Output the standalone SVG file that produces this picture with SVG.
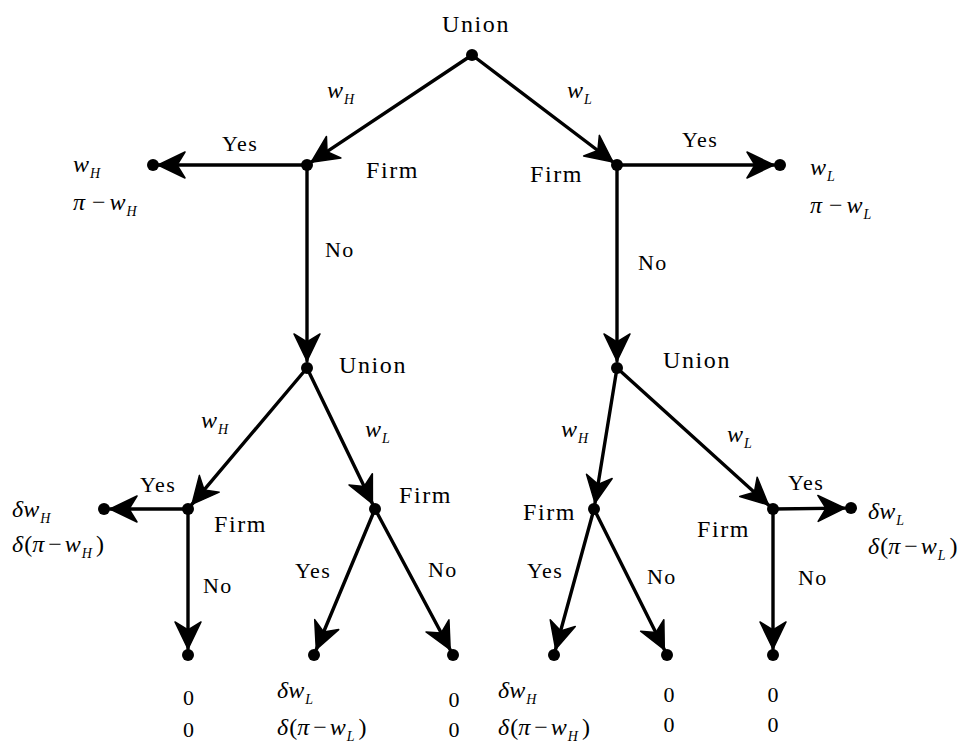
<svg xmlns="http://www.w3.org/2000/svg" width="967" height="744" viewBox="0 0 967 744">
<style>
.e{stroke:#000;stroke-width:3.4;fill:none;stroke-linecap:round;marker-end:url(#ah)}
.d{fill:#000}
.t{font-family:"Liberation Serif","Times New Roman",serif;font-size:24px;letter-spacing:1.6px;fill:#000}
.y{font-family:"Liberation Serif","Times New Roman",serif;font-size:22px;letter-spacing:1.4px;fill:#000}
.m{font-family:"Liberation Serif","Times New Roman",serif;font-size:24px;font-style:italic;fill:#000}
.r{font-style:normal}
.s{font-size:14px;font-style:italic}
.z{font-family:"Liberation Serif","Times New Roman",serif;font-size:22px;fill:#000;text-anchor:middle}
</style>
<defs>
<marker id="ah" viewBox="-29 -15 31 30" refX="0" refY="0" markerWidth="31" markerHeight="30" markerUnits="userSpaceOnUse" orient="auto">
<path d="M0,0 L-27,-13 L-19,0 L-27,13 Z" fill="#000" stroke="#000" stroke-width="1.5" stroke-linejoin="round"/>
</marker>
</defs>
<rect width="967" height="744" fill="#fff"/>
<g id="connectors">
<line class="e" x1="472" y1="55" x2="311.2" y2="162.2"/>
<line class="e" x1="472" y1="55" x2="613" y2="162"/>
<line class="e" x1="307" y1="165" x2="158" y2="165"/>
<line class="e" x1="617" y1="165" x2="774" y2="165"/>
<line class="e" x1="307" y1="165" x2="307" y2="361"/>
<line class="e" x1="617" y1="165" x2="617" y2="361"/>
<line class="e" x1="307" y1="368" x2="191.9" y2="504.4"/>
<line class="e" x1="307" y1="368" x2="372.4" y2="503.6"/>
<line class="e" x1="617" y1="368" x2="595" y2="503.1"/>
<line class="e" x1="617" y1="368" x2="768.5" y2="505"/>
<line class="e" x1="188" y1="509" x2="110" y2="509"/>
<line class="e" x1="188" y1="509" x2="188" y2="649"/>
<line class="e" x1="375" y1="509" x2="316.3" y2="649.5"/>
<line class="e" x1="375" y1="509" x2="450.2" y2="649.7"/>
<line class="e" x1="594" y1="509" x2="555.6" y2="649.2"/>
<line class="e" x1="594" y1="509" x2="664.3" y2="649.6"/>
<line class="e" x1="773" y1="509" x2="845" y2="508.1"/>
<line class="e" x1="773" y1="509" x2="773" y2="649"/>
</g>
<g id="edge-labels">
<text class="m" x="327" y="98">w<tspan class="s" dx="1" dy="6">H</tspan></text>
<text class="m" x="567" y="98">w<tspan class="s" dx="1" dy="6">L</tspan></text>
<text class="y" x="222" y="151">Yes</text>
<text class="y" x="682" y="147">Yes</text>
<text class="y" x="325" y="257">No</text>
<text class="y" x="638" y="270">No</text>
<text class="m" x="201" y="428">w<tspan class="s" dx="1" dy="6">H</tspan></text>
<text class="m" x="365" y="437">w<tspan class="s" dx="1" dy="6">L</tspan></text>
<text class="m" x="561" y="437">w<tspan class="s" dx="1" dy="6">H</tspan></text>
<text class="m" x="727" y="442">w<tspan class="s" dx="1" dy="6">L</tspan></text>
<text class="y" x="140" y="492">Yes</text>
<text class="y" x="203" y="593">No</text>
<text class="y" x="295" y="578">Yes</text>
<text class="y" x="428" y="577">No</text>
<text class="y" x="527" y="578">Yes</text>
<text class="y" x="647" y="584">No</text>
<text class="y" x="788" y="490">Yes</text>
<text class="y" x="798" y="585">No</text>
</g>
<g id="n-union1"><circle class="d" cx="472" cy="55" r="6"/><text class="t" x="442" y="32">Union</text></g>
<g id="n-firmL"><circle class="d" cx="307" cy="165" r="6"/><text class="t" x="366" y="178">Firm</text></g>
<g id="n-firmR"><circle class="d" cx="617" cy="165" r="6"/><text class="t" x="530" y="182">Firm</text></g>
<g id="n-payL"><circle class="d" cx="153" cy="165" r="6"/>
<text class="m" x="73" y="172">w<tspan class="s" dx="1" dy="6">H</tspan></text>
<text class="m" x="73" y="210">π<tspan class="r" dx="7">−</tspan><tspan dx="4">w</tspan><tspan class="s" dx="1" dy="6">H</tspan></text></g>
<g id="n-payR"><circle class="d" cx="780" cy="165" r="6"/>
<text class="m" x="810" y="175">w<tspan class="s" dx="1" dy="6">L</tspan></text>
<text class="m" x="810" y="213">π<tspan class="r" dx="7">−</tspan><tspan dx="4">w</tspan><tspan class="s" dx="1" dy="6">L</tspan></text></g>
<g id="n-unionL"><circle class="d" cx="307" cy="368" r="6"/><text class="t" x="339" y="373">Union</text></g>
<g id="n-unionR"><circle class="d" cx="617" cy="368" r="6"/><text class="t" x="663" y="368">Union</text></g>
<g id="n-firmLL"><circle class="d" cx="188" cy="509" r="6"/><text class="t" x="214" y="532">Firm</text></g>
<g id="n-firmLR"><circle class="d" cx="375" cy="509" r="6"/><text class="t" x="399" y="503">Firm</text></g>
<g id="n-firmRL"><circle class="d" cx="594" cy="509" r="6"/><text class="t" x="523" y="520">Firm</text></g>
<g id="n-firmRR"><circle class="d" cx="773" cy="509" r="6"/><text class="t" x="697" y="537">Firm</text></g>
<g id="n-payLL"><circle class="d" cx="104" cy="509" r="6"/>
<text class="m" x="12" y="517">δw<tspan class="s" dx="1" dy="6">H</tspan></text>
<text class="m" x="12" y="552">δ<tspan class="r" dx="1">(</tspan>π<tspan class="r" dx="4">−</tspan><tspan dx="3">w</tspan><tspan class="s" dx="1" dy="6">H</tspan><tspan class="r" dx="4" dy="-6">)</tspan></text></g>
<g id="n-payRR"><circle class="d" cx="851" cy="508" r="6"/>
<text class="m" x="868" y="519">δw<tspan class="s" dx="1" dy="6">L</tspan></text>
<text class="m" x="868" y="554">δ<tspan class="r" dx="1">(</tspan>π<tspan class="r" dx="4">−</tspan><tspan dx="3">w</tspan><tspan class="s" dx="1" dy="6">L</tspan><tspan class="r" dx="4" dy="-6">)</tspan></text></g>
<g id="n-t1"><circle class="d" cx="188" cy="655" r="6"/><text class="z" x="188.5" y="705">0</text><text class="z" x="188.5" y="737">0</text></g>
<g id="n-t2"><circle class="d" cx="314" cy="655" r="6"/>
<text class="m" x="277" y="698">δw<tspan class="s" dx="1" dy="6">L</tspan></text>
<text class="m" x="277" y="735">δ<tspan class="r" dx="1">(</tspan>π<tspan class="r" dx="4">−</tspan><tspan dx="3">w</tspan><tspan class="s" dx="1" dy="6">L</tspan><tspan class="r" dx="4" dy="-6">)</tspan></text></g>
<g id="n-t3"><circle class="d" cx="453" cy="655" r="6"/><text class="z" x="454" y="707">0</text><text class="z" x="454" y="737">0</text></g>
<g id="n-t4"><circle class="d" cx="554" cy="655" r="6"/>
<text class="m" x="498" y="698">δw<tspan class="s" dx="1" dy="6">H</tspan></text>
<text class="m" x="498" y="735">δ<tspan class="r" dx="1">(</tspan>π<tspan class="r" dx="4">−</tspan><tspan dx="3">w</tspan><tspan class="s" dx="1" dy="6">H</tspan><tspan class="r" dx="4" dy="-6">)</tspan></text></g>
<g id="n-t5"><circle class="d" cx="667" cy="655" r="6"/><text class="z" x="669" y="702">0</text><text class="z" x="669" y="732">0</text></g>
<g id="n-t6"><circle class="d" cx="773" cy="655" r="6"/><text class="z" x="773" y="702">0</text><text class="z" x="773" y="732">0</text></g>
</svg>
